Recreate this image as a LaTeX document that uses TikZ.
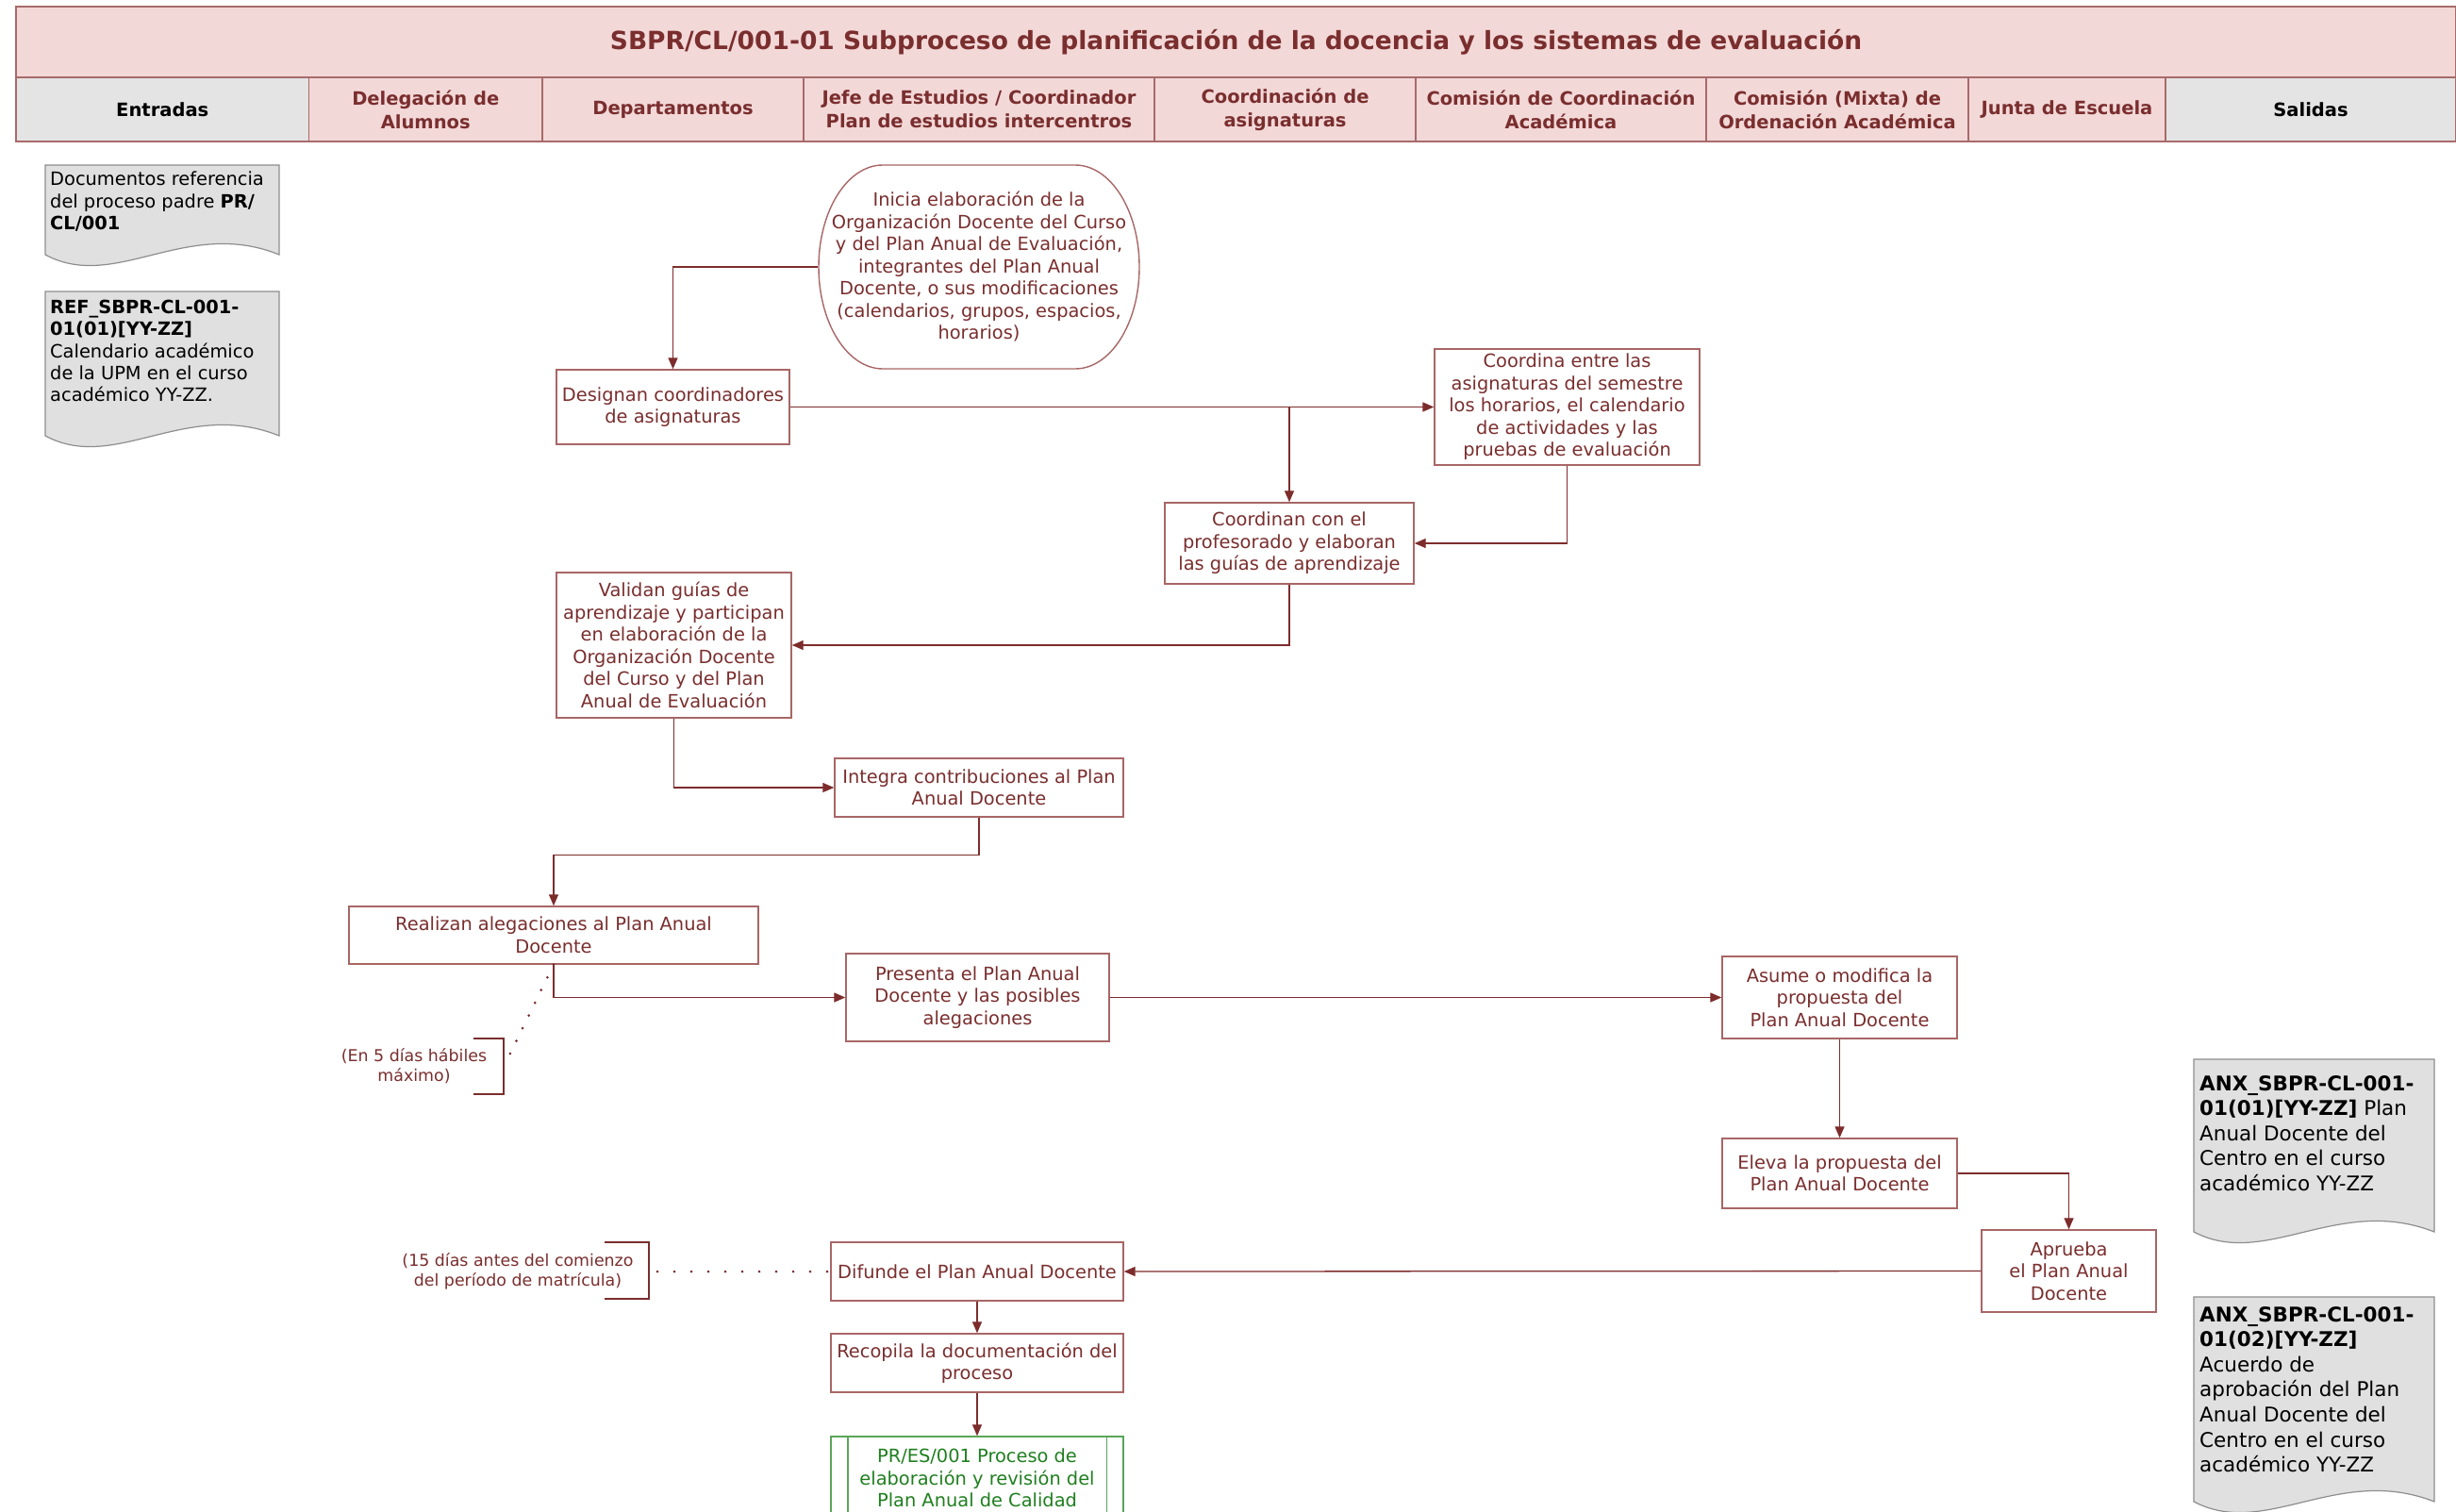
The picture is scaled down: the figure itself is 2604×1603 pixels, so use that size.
\documentclass[tikz,border=0pt]{standalone}
\usepackage{fontspec}
\setmainfont{DejaVu Sans}
\usetikzlibrary{arrows.meta}
\definecolor{dred}{HTML}{7A2E2E}
\definecolor{bred}{HTML}{A86666}
\definecolor{ared}{HTML}{7D2C2C}
\definecolor{hpink}{HTML}{F3D8D8}
\definecolor{hline}{HTML}{A86A6A}
\definecolor{hgray}{HTML}{E4E4E4}
\definecolor{dgray}{HTML}{E0E0E0}
\definecolor{dgrayb}{HTML}{8E8E8E}
\definecolor{pgreen}{HTML}{1F7F1F}
\definecolor{bgreen}{HTML}{5AA55A}
\begin{document}
\begin{tikzpicture}[x=1pt,y=-1pt,
  hcell/.style={draw=hline, line width=1.2pt, fill=hpink, minimum height=68pt, inner sep=0pt, align=center, text=dred, font=\bfseries\fontsize{19.5}{25}\selectfont},
  gcell/.style={hcell, fill=hgray, text=black},
  fbox/.style={draw=bred, line width=1.4pt, fill=white, text=dred, align=center, inner sep=0pt, font=\fontsize{19.4}{23.5}\selectfont},
  gbox/.style={fbox, draw=bgreen, text=pgreen},
  doctxt/.style={anchor=north west, align=left, inner sep=0pt, text=black, font=\fontsize{19.4}{23.3}\selectfont},
  doctxtb/.style={doctxt, font=\fontsize{21.5}{26.6}\selectfont},
  docshape/.style={draw=dgrayb, line width=1.2pt, fill=dgray},
  notetxt/.style={align=center, inner sep=0pt, text=dred, font=\fontsize{17.4}{21}\selectfont},
  brk/.style={draw=dred, line width=1.3pt},
  arr/.style={draw=ared, line width=1.3pt, -{Triangle[length=12pt,width=10pt]}},
  dots1/.style={draw=dred, line width=3pt, line cap=round, dash pattern=on 0pt off 15pt},
  dots2/.style={draw=dred, line width=3pt, line cap=round, dash pattern=on 0pt off 18pt}
]
\useasboundingbox (0,0) rectangle (2604,1603);
\clip (0,0) rectangle (2604,1603);
\fill[white] (0,0) rectangle (2604,1603);

% ---------- header ----------
\node[hcell, minimum width=2587pt, minimum height=75pt, font=\bfseries\fontsize{26.5}{30}\selectfont] (title) at (1310.5,44.5)
  {SBPR/CL/001-01 Subproceso de planificación de la docencia y los sistemas de evaluación};
\node[gcell, minimum width=310.5pt] (h0) at (172.25,116) {Entradas};
\node[hcell, minimum width=247.5pt] (h1) at (451.25,116) {Delegación de\\Alumnos};
\node[hcell, minimum width=277pt] (h2) at (713.5,116) {Departamentos};
\node[hcell, minimum width=372pt] (h3) at (1038,116) {Jefe de Estudios / Coordinador\\Plan de estudios intercentros};
\node[hcell, minimum width=277pt] (h4) at (1362.5,116) {Coordinación de\\asignaturas};
\node[hcell, minimum width=308pt] (h5) at (1655,116) {Comisión de Coordinación\\Académica};
\node[hcell, minimum width=278pt] (h6) at (1948,116) {Comisión (Mixta) de\\Ordenación Académica};
\node[hcell, minimum width=209pt] (h7) at (2191.5,116) {Junta de Escuela};
\node[gcell, minimum width=308pt] (h8) at (2450,116) {Salidas};

% ---------- input / output documents ----------
\path[docshape] (48,175) -- (296,175) -- (296,270) .. controls (197,230) and (122,310) .. (48,270) -- cycle;
\node[doctxt] (doc1) at (53,182) {Documentos referencia\\del proceso padre \textbf{PR/}\\\textbf{CL/001}};
\path[docshape] (48,309) -- (296,309) -- (296,462) .. controls (197,422) and (122,502) .. (48,462) -- cycle;
\node[doctxt] (doc2) at (53,318) {\textbf{REF\_SBPR-CL-001-}\\\textbf{01(01)[YY-ZZ]}\\Calendario académico\\de la UPM en el curso\\académico YY-ZZ.};
\path[docshape] (2326,1123) -- (2581,1123) -- (2581,1306) .. controls (2479,1266) and (2402,1346) .. (2326,1306) -- cycle;
\node[doctxtb] (doc3) at (2332,1140) {\textbf{ANX\_SBPR-CL-001-}\\\textbf{01(01)[YY-ZZ]} Plan\\Anual Docente del\\Centro en el curso\\académico YY-ZZ};
\path[docshape] (2326,1375) -- (2581,1375) -- (2581,1592) .. controls (2479,1552) and (2402,1632) .. (2326,1592) -- cycle;
\node[doctxtb] (doc4) at (2332,1385) {\textbf{ANX\_SBPR-CL-001-}\\\textbf{01(02)[YY-ZZ]}\\Acuerdo de\\aprobación del Plan\\Anual Docente del\\Centro en el curso\\académico YY-ZZ};

% ---------- start (rounded terminator) ----------
\draw[draw=bred, line width=1.4pt, fill=white] (936,175) -- (1140,175) arc[start angle=-90, end angle=90, x radius=68, y radius=108]
  -- (936,391) arc[start angle=90, end angle=270, x radius=68, y radius=108] -- cycle;
\node[fbox, draw=none, fill=none, minimum width=340pt, minimum height=216pt] (inicia) at (1038,283)
  {Inicia elaboración de la\\Organización Docente del Curso\\y del Plan Anual de Evaluación,\\integrantes del Plan Anual\\Docente, o sus modificaciones\\(calendarios, grupos, espacios,\\horarios)};

% ---------- process boxes ----------
\node[fbox, minimum width=247pt, minimum height=79pt] (designan) at (713.5,431.5) {Designan coordinadores\\de asignaturas};
\node[fbox, minimum width=281pt, minimum height=123pt] (coordina) at (1661.5,431.5) {Coordina entre las\\asignaturas del semestre\\los horarios, el calendario\\de actividades y las\\pruebas de evaluación};
\node[fbox, minimum width=264pt, minimum height=86pt] (coordinan) at (1367,576) {Coordinan con el\\profesorado y elaboran\\las guías de aprendizaje};
\node[fbox, minimum width=249pt, minimum height=154pt] (validan) at (714.5,684) {Validan guías de\\aprendizaje y participan\\en elaboración de la\\Organización Docente\\del Curso y del Plan\\Anual de Evaluación};
\node[fbox, minimum width=306pt, minimum height=62pt] (integra) at (1038,835) {Integra contribuciones al Plan\\Anual Docente};
\node[fbox, minimum width=434pt, minimum height=61pt] (realizan) at (587,991.5) {Realizan alegaciones al Plan Anual\\Docente};
\node[fbox, minimum width=279pt, minimum height=93pt] (presenta) at (1036.5,1057.5) {Presenta el Plan Anual\\Docente y las posibles\\alegaciones};
\node[fbox, minimum width=249pt, minimum height=87pt] (asume) at (1950.5,1057.5) {Asume o modifica la\\propuesta del\\Plan Anual Docente};
\node[fbox, minimum width=249pt, minimum height=74pt] (eleva) at (1950.5,1244) {Eleva la propuesta del\\Plan Anual Docente};
\node[fbox, minimum width=185pt, minimum height=87pt] (aprueba) at (2193.5,1347.5) {Aprueba\\el Plan Anual\\Docente};
\node[fbox, minimum width=310pt, minimum height=62pt] (difunde) at (1036,1348) {Difunde el Plan Anual Docente};
\node[fbox, minimum width=310pt, minimum height=62pt] (recopila) at (1036,1445) {Recopila la documentación del\\proceso};
\node[gbox, minimum width=310pt, minimum height=88pt] (pres) at (1036,1567) {PR/ES/001 Proceso de\\elaboración y revisión del\\Plan Anual de Calidad};
\draw[draw=bgreen, line width=1.4pt] ([xshift=18.5pt]pres.north west) -- ([xshift=18.5pt]pres.south west);
\draw[draw=bgreen, line width=1.4pt] ([xshift=-18.5pt]pres.north east) -- ([xshift=-18.5pt]pres.south east);

% ---------- annotations ----------
\node[notetxt] (nota1) at (439,1130.5) {(En 5 días hábiles\\máximo)};
\draw[brk] (502,1101) -- (534,1101) -- (534,1160) -- (502,1160);
\coordinate (b1) at (536,1127);
\node[notetxt] (nota2) at (549,1347.5) {(15 días antes del comienzo\\del período de matrícula)};
\draw[brk] (641,1317) -- (688,1317) -- (688,1377) -- (641,1377);
\coordinate (b2) at (697,1348);

% ---------- connectors ----------
\draw[arr] (inicia.west) -| (designan.north);
\draw[arr] (designan.east) -- (coordina.west);
\draw[arr] (designan.east -| coordinan.north) -- (coordinan.north);
\draw[arr] (coordina.south) |- (coordinan.east);
\draw[arr] (coordinan.south) |- (validan.east);
\draw[arr] (validan.south) |- (integra.west);
\draw[arr] (integra.south) -- ++(0,40) -| (realizan.north);
\draw[arr] (realizan.south) |- (presenta.west);
\draw[arr] (presenta.east) -- (asume.west);
\draw[arr] (asume.south) -- (eleva.north);
\draw[arr] (eleva.east) -| (aprueba.north);
\draw[arr] (aprueba.west) -- (difunde.east);
\draw[arr] (difunde.south) -- (recopila.north);
\draw[arr] (recopila.south) -- (pres.north);
\draw[dots1] (realizan.south) -- (b1);
\draw[dots2] (b2) -- (difunde.west);
\end{tikzpicture}
\end{document}
